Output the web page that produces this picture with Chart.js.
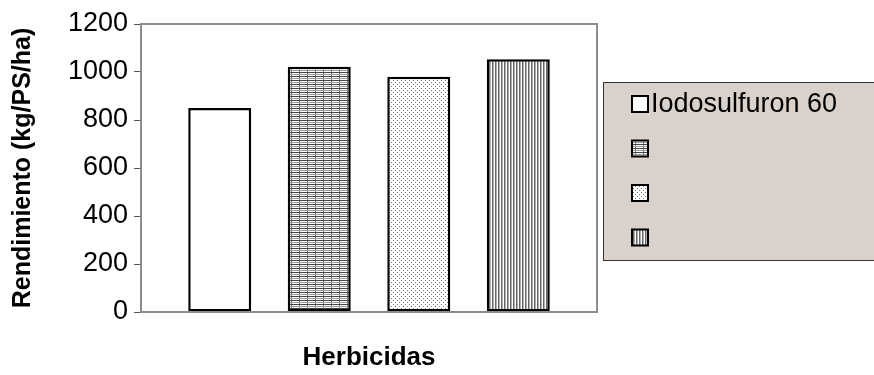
<!DOCTYPE html>
<html>
<head>
<meta charset="utf-8">
<script src="https://cdn.jsdelivr.net/npm/chart.js@4.4.1/dist/chart.umd.min.js"></script>
<style>
  html, body { margin: 0; padding: 0; background: #ffffff; }
  #wrap { width: 874px; height: 375px; }
</style>
</head>
<body>
<div id="wrap"><canvas id="c" width="874" height="375"></canvas></div>
<script>
// Yield per herbicide treatment (kg/PS/ha)
const categories = [''];
const seriesNames = ['Iodosulfuron 60', '', '', ''];
const seriesValues = [[850], [1022], [980], [1053]];
const yTicks = [0, 200, 400, 600, 800, 1000, 1200];
const yTitle = 'Rendimiento (kg/PS/ha)';
const xTitle = 'Herbicidas';

const FONT = "'Liberation Sans', Arial, sans-serif";

// Fill patterns for the hatched bars
function makePattern(w, h, draw) {
  const cv = document.createElement('canvas');
  cv.width = w; cv.height = h;
  const g = cv.getContext('2d');
  g.fillStyle = '#ffffff';
  g.fillRect(0, 0, w, h);
  draw(g);
  return document.getElementById('c').getContext('2d').createPattern(cv, 'repeat');
}
const fills = [
  '#ffffff',
  makePattern(8, 4, g => {           // horizontal lines
    g.fillStyle = '#444444'; g.fillRect(0, 0, 8, 1);
    g.fillStyle = '#999999'; g.fillRect(0, 2, 8, 1);
    g.fillStyle = '#777777'; g.fillRect(3, 1, 1, 1); g.fillRect(3, 3, 1, 1);
  }),
  makePattern(4, 4, g => {           // fine dots
    g.fillStyle = '#777777'; g.fillRect(1, 0, 1, 1); g.fillRect(3, 2, 1, 1);
  }),
  makePattern(3, 1, g => {           // vertical lines
    g.fillStyle = '#666666'; g.fillRect(0, 0, 1, 1);
    g.fillStyle = '#b0b0b0'; g.fillRect(1, 0, 1, 1);
  })
];

const datasets = seriesNames.map((name, i) => ({
  label: name,
  data: seriesValues[i],
  backgroundColor: fills[i],
  borderColor: '#000000',
  borderWidth: 2.5,
  borderSkipped: false,
  categoryPercentage: 0.873,
  barPercentage: 0.633
}));

// Grey frame around the plot area
const frame = {
  id: 'frame',
  afterDatasetsDraw(chart) {
    const { ctx, chartArea: a } = chart;
    ctx.save();
    ctx.strokeStyle = '#8c8c8c';
    ctx.lineWidth = 2;
    ctx.strokeRect(a.left, a.top, a.right - a.left, a.bottom - a.top);
    ctx.restore();
  }
};

// Legend panel on the right
const sideLegend = {
  id: 'sideLegend',
  afterDraw(chart) {
    const { ctx } = chart;
    const box = { x: 603, y: 82, w: 300, h: 178 };
    ctx.save();
    ctx.fillStyle = '#d9d1ca';
    ctx.fillRect(box.x, box.y, box.w, box.h);
    ctx.strokeStyle = '#333333';
    ctx.lineWidth = 1;
    ctx.strokeRect(box.x + 0.5, box.y + 0.5, box.w, box.h);
    const step = 44.5;
    chart.data.datasets.forEach((ds, i) => {
      const cy = 104 + i * step;
      const sx = 632, s = 16;
      ctx.fillStyle = ds.backgroundColor;
      ctx.fillRect(sx, cy - s / 2, s, s);
      ctx.strokeStyle = '#000000';
      ctx.lineWidth = 2;
      ctx.strokeRect(sx, cy - s / 2, s, s);
      ctx.fillStyle = '#000000';
      ctx.font = '27px ' + FONT;
      ctx.textBaseline = 'middle';
      ctx.textAlign = 'left';
      ctx.fillText(ds.label, sx + s + 3, cy + 1);
    });
    ctx.restore();
  }
};

new Chart(document.getElementById('c'), {
  type: 'bar',
  data: { labels: categories, datasets },
  plugins: [frame, sideLegend],
  options: {
    responsive: false,
    animation: false,
    layout: { padding: { top: 24, right: 277, left: 0, bottom: 0 } },
    plugins: { legend: { display: false }, tooltip: { enabled: false } },
    scales: {
      x: {
        grid: { display: false, drawTicks: false },
        border: { display: false },
        ticks: { display: false },
        title: {
          display: true, text: xTitle, color: '#000000',
          font: { family: FONT, size: 26, weight: 'bold' },
          padding: { top: 0, bottom: 2 }
        },
        afterFit(scale) { scale.height = 63; }
      },
      y: {
        min: 0, max: 1200,
        afterBuildTicks(scale) { scale.ticks = yTicks.map(v => ({ value: v })); },
        grid: { drawOnChartArea: false, drawTicks: true, tickLength: 7, tickColor: '#555555' },
        border: { display: true, color: '#555555', width: 1 },
        ticks: {
          color: '#000000', font: { family: FONT, size: 27 }, padding: 6,
          callback: v => String(v)
        },
        title: {
          display: true, text: yTitle, color: '#000000',
          font: { family: FONT, size: 25, weight: 'bold' },
          padding: { top: 8, bottom: 0 }
        },
        afterFit(scale) { scale.width = 141; }
      }
    }
  }
});
</script>
</body>
</html>
